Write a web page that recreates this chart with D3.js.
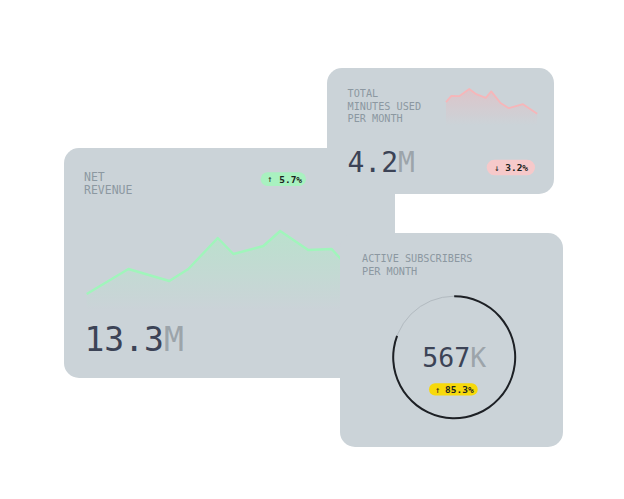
<!DOCTYPE html>
<html>
<head>
<meta charset="utf-8">
<script src="https://cdn.jsdelivr.net/npm/d3@7"></script>
<style>
  html, body { margin: 0; padding: 0; background: #ffffff; }
  svg { display: block; }
  text { font-family: "DejaVu Sans Mono", "Liberation Mono", monospace; }
</style>
</head>
<body>
<svg id="chart" width="624" height="499"></svg>
<script>
// ---- data ----
const revenueLabel = ["NET", "REVENUE"];
const revenueValue = "13.3";
const revenueUnit = "M";
const revenueChange = "5.7%";
const revenueT = [0, 14.9, 29.5, 36.3, 46.8, 52.4, 63.1, 69.1, 79.1, 87.5, 95];
const revenueV = [16, 41, 29, 41, 72, 56, 64, 79, 60, 61, 38];

const minutesLabel = ["TOTAL", "MINUTES USED", "PER MONTH"];
const minutesValue = "4.2";
const minutesUnit = "M";
const minutesChange = "3.2%";
const minutesT = [0, 5.9, 14.5, 25.5, 33.2, 43.6, 49.6, 59.8, 68.9, 84.4, 100];
const minutesV = [57, 73, 72, 90, 77, 68, 84, 55, 42, 52, 28];

const subsLabel = ["ACTIVE SUBSCRIBERS", "PER MONTH"];
const subsValue = "567";
const subsUnit = "K";
const subsChange = "85.3%";
const subsRing = [0.807];

// ---- styles ----
const CARD = "#cbd3d8";
const LABEL = "#8c98a1";
const BIG = "#3c4356";
const UNIT = "#9ca4aa";

const svg = d3.select("#chart");
const defs = svg.append("defs");

function gradient(id, color, topOpacity) {
  const g = defs.append("linearGradient").attr("id", id)
    .attr("x1", 0).attr("y1", 0).attr("x2", 0).attr("y2", 1);
  g.append("stop").attr("offset", "0%").attr("stop-color", color).attr("stop-opacity", topOpacity);
  g.append("stop").attr("offset", "100%").attr("stop-color", color).attr("stop-opacity", 0);
}
gradient("gGreen", "#a6f2c0", 0.45);
gradient("gPink", "#f2b3b8", 0.45);

function card(x, y, w, h, clipId) {
  const g = svg.append("g");
  g.append("rect").attr("x", x).attr("y", y).attr("width", w).attr("height", h)
    .attr("rx", 15).attr("fill", CARD);
  defs.append("clipPath").attr("id", clipId).append("rect")
    .attr("x", x).attr("y", y).attr("width", w).attr("height", h).attr("rx", 15);
  return g;
}

function label(g, lines, x, y, size, lh) {
  const t = g.append("text").attr("x", x).attr("y", y)
    .attr("font-size", size).attr("fill", LABEL);
  lines.forEach((l, i) => t.append("tspan").attr("x", x).attr("dy", i === 0 ? 0 : lh).text(l));
}

function bigNumber(g, value, unit, x, y, size, anchor) {
  const t = g.append("text").attr("x", x).attr("y", y).attr("font-size", size)
    .attr("text-anchor", anchor || "start");
  t.append("tspan").attr("fill", BIG).text(value);
  t.append("tspan").attr("fill", UNIT).text(unit);
}

function badge(g, x, y, w, h, fill, arrow, txt, arrowDx, txtDx) {
  g.append("rect").attr("x", x).attr("y", y).attr("width", w).attr("height", h)
    .attr("rx", h / 2).attr("fill", fill);
  g.append("text").attr("x", x + arrowDx).attr("y", y + h / 2 + 3.3)
    .attr("font-size", 9).attr("fill", "#1b2320").text(arrow);
  g.append("text").attr("x", x + txtDx).attr("y", y + h / 2 + 3.4)
    .attr("font-size", 9.5).attr("font-weight", "bold").attr("fill", "#1b2320").text(txt);
}

// ---- Card 1: net revenue ----
const c1 = card(64, 148, 331, 230, "clip1");
label(c1, revenueLabel, 84, 180.7, 11.5, 13.7);
badge(c1, 260.7, 172.3, 45.3, 13.7, "#a9f1c0", "↑", revenueChange, 6.5, 18.5);
const rx = d3.scaleLinear().domain([0, 100]).range([86.7, 366.7]);
const ry = d3.scaleLinear().domain([0, 100]).range([310, 210]);
const revData = revenueT.map((t, i) => ({ t, v: revenueV[i] }));
const plot1 = c1.append("g").attr("clip-path", "url(#clip1)");
plot1.append("path").datum(revData)
  .attr("d", d3.area().x(d => rx(d.t)).y0(ry(0)).y1(d => ry(d.v)))
  .attr("fill", "url(#gGreen)");
plot1.append("path").datum(revData)
  .attr("d", d3.line().x(d => rx(d.t)).y(d => ry(d.v)))
  .attr("fill", "none").attr("stroke", "#a0f5bb").attr("stroke-width", 2.4)
  .attr("stroke-linejoin", "round");
bigNumber(c1, revenueValue, revenueUnit, 84.5, 351, 33);

// ---- Card 2: minutes ----
const c2 = card(327, 68, 227, 126, "clip2");
label(c2, minutesLabel, 347.5, 97.4, 10.2, 12.2);
const mx = d3.scaleLinear().domain([0, 100]).range([446, 537.2]);
const my = d3.scaleLinear().domain([0, 100]).range([125, 85]);
const minData = minutesT.map((t, i) => ({ t, v: minutesV[i] }));
c2.append("path").datum(minData)
  .attr("d", d3.area().x(d => mx(d.t)).y0(my(0)).y1(d => my(d.v)))
  .attr("fill", "url(#gPink)");
c2.append("path").datum(minData)
  .attr("d", d3.line().x(d => mx(d.t)).y(d => my(d.v)))
  .attr("fill", "none").attr("stroke", "#f6b6b9").attr("stroke-width", 1.8)
  .attr("stroke-linejoin", "round");
bigNumber(c2, minutesValue, minutesUnit, 347.5, 172.3, 28);
badge(c2, 486.7, 159.7, 48.3, 15.6, "#f6c9ca", "↓", minutesChange, 7.5, 18.5);

// ---- Card 3: subscribers ----
const c3 = card(340, 233, 223, 214, "clip3");
label(c3, subsLabel, 362, 262.4, 10.2, 12.3);
const cx = 454.2, cy = 357.2;
c3.append("circle").attr("cx", cx).attr("cy", cy).attr("r", 61)
  .attr("fill", "none").attr("stroke", "#b2bac0").attr("stroke-width", 1);
const ringScale = d3.scaleLinear().domain([0, 1]).range([0, 2 * Math.PI]);
c3.append("path")
  .attr("transform", `translate(${cx},${cy})`)
  .attr("d", d3.arc().innerRadius(60).outerRadius(62).startAngle(0).endAngle(ringScale(subsRing[0]))())
  .attr("fill", "#1d2025");
bigNumber(c3, subsValue, subsUnit, cx, 366.5, 26.5, "middle");
badge(c3, 429, 383.3, 48.7, 12.2, "#f7d90b", "↑", subsChange, 6, 16);
</script>
</body>
</html>
